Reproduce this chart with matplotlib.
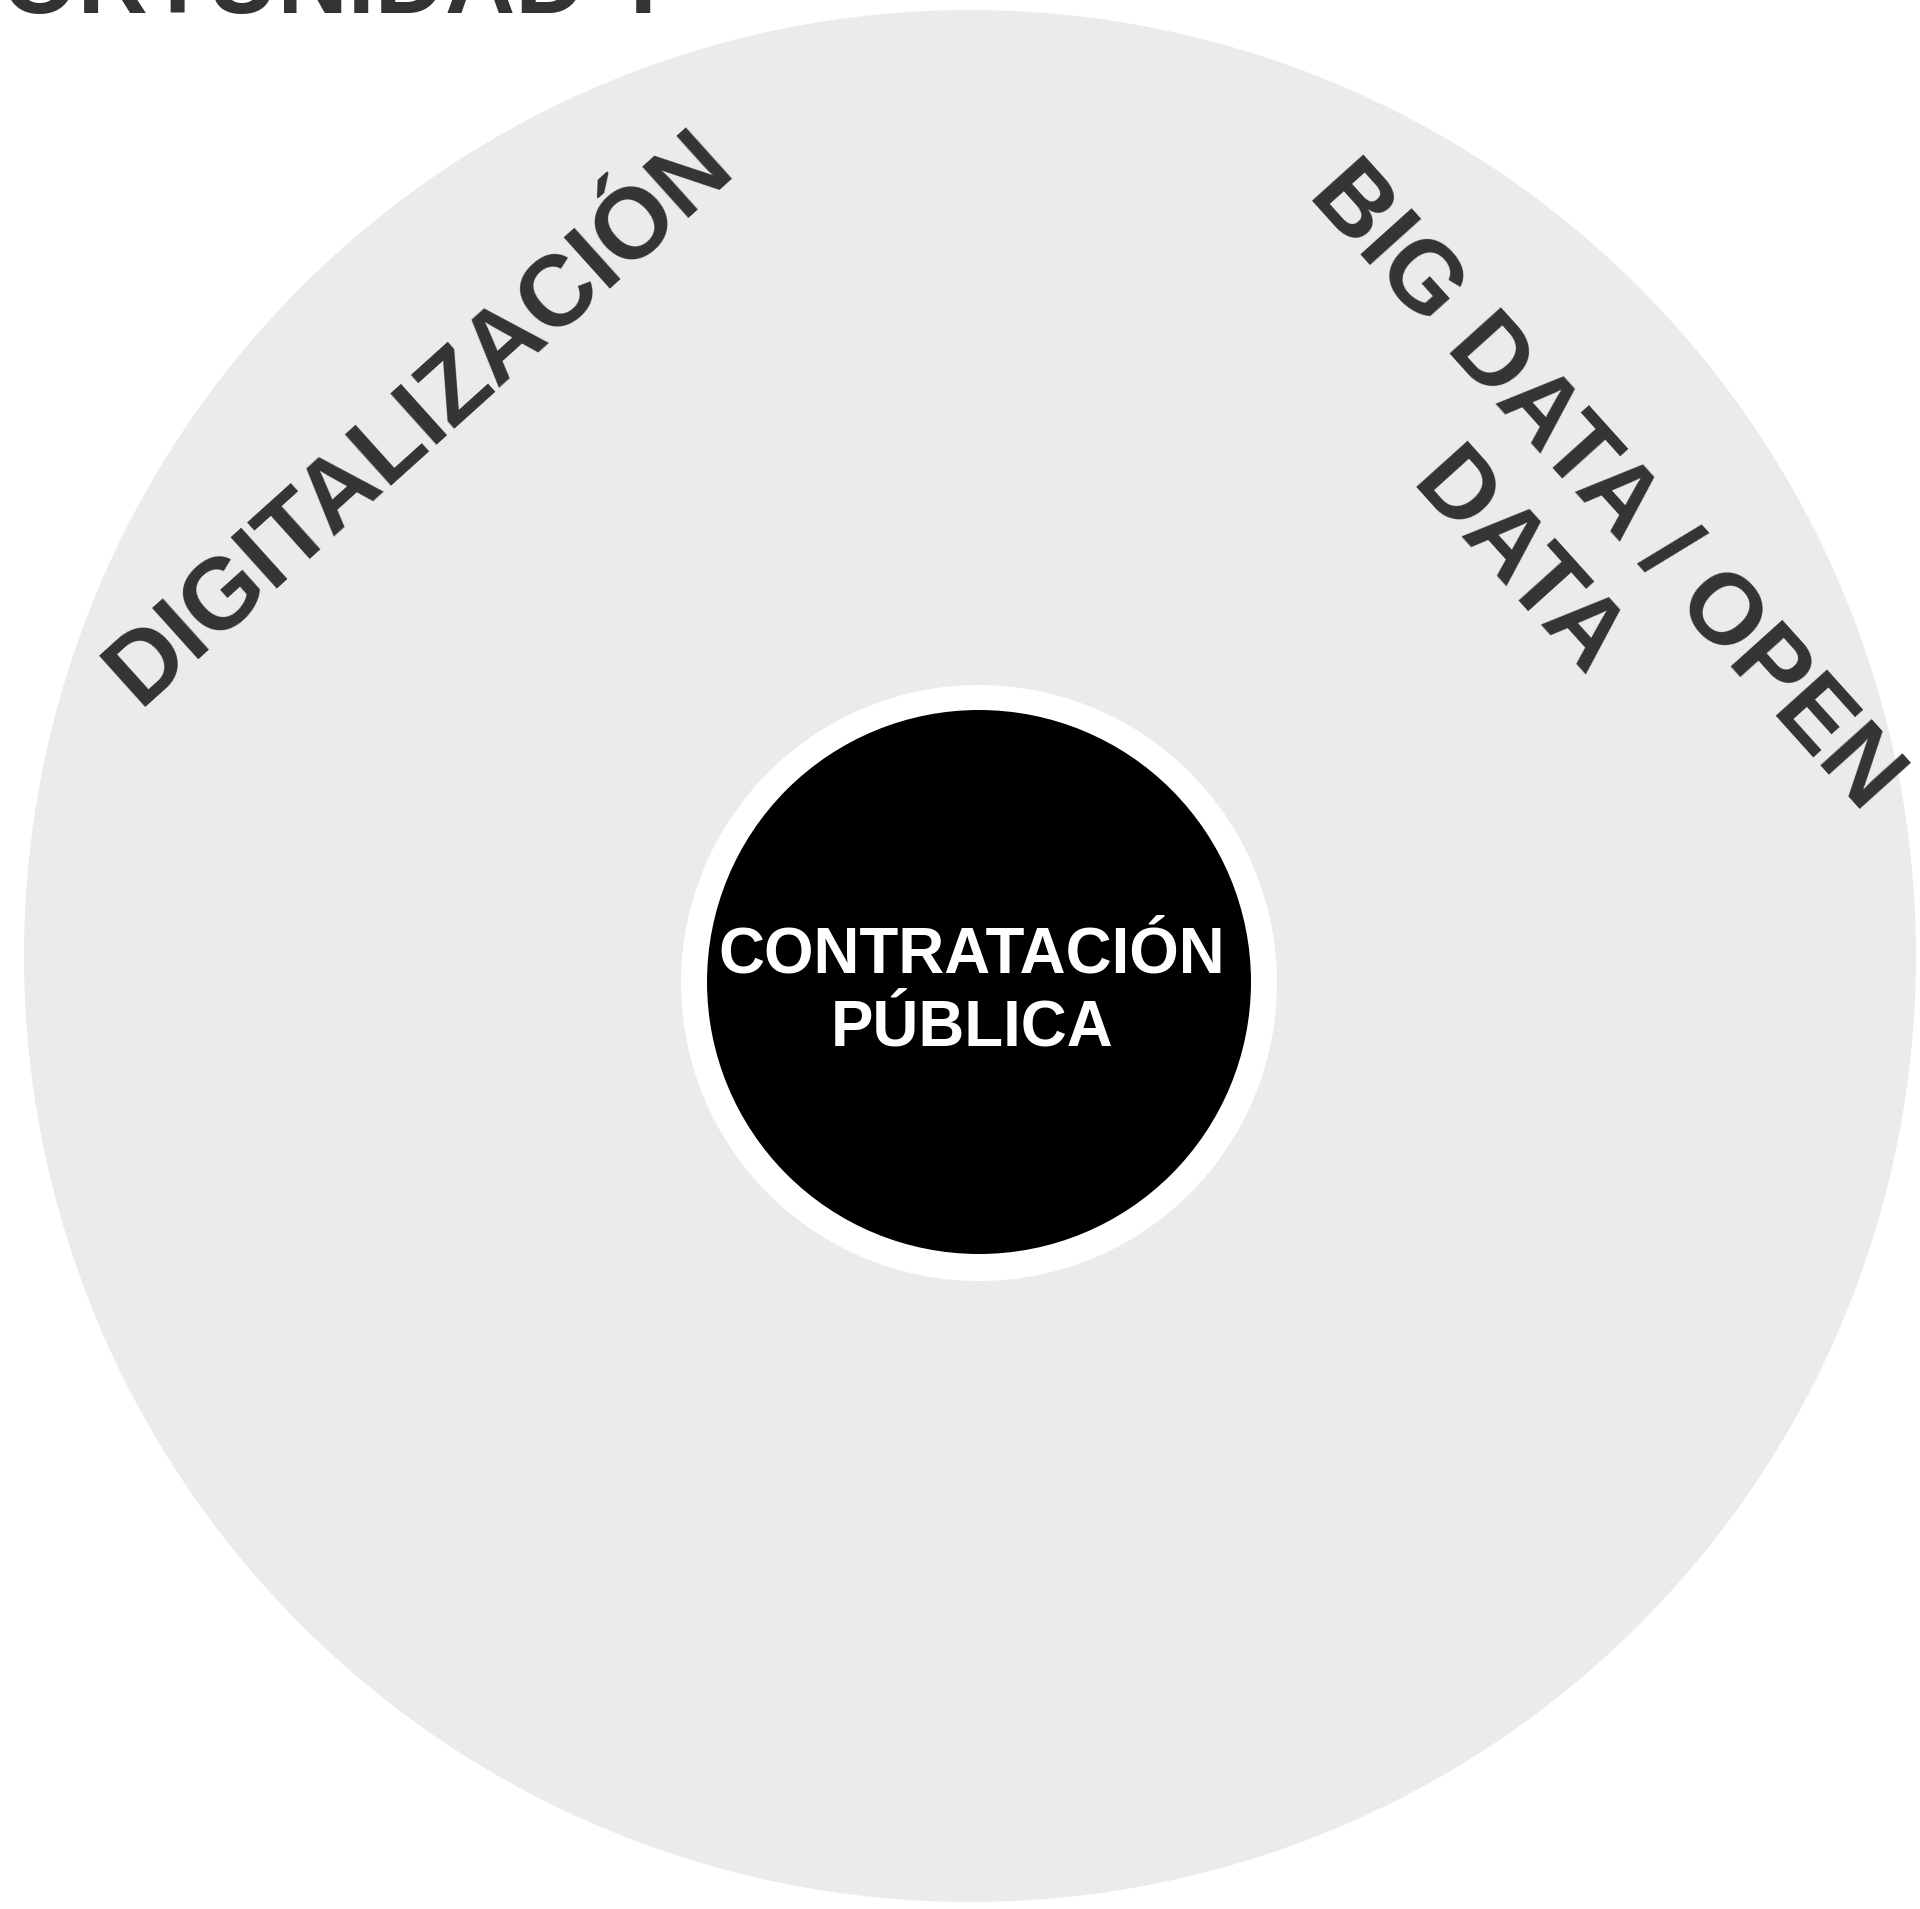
import matplotlib.pyplot as plt
from matplotlib.patches import Circle

# Labels
title_text = "ORTUNIDAD Y"
center_label = "CONTRATACIÓN\nPÚBLICA"
ring_labels = ["DIGITALIZACIÓN", "BIG DATA / OPEN", "DATA"]
ring_label_angles = [42, -48, -48]
# baseline centres in pixel space
ring_label_pos = [(437, 438), (1585, 504), (1496, 584)]

# Circles (pixel space): centre x, centre y, radius
outer_circle = (970, 956, 946)
white_ring = (979, 983, 298)
inner_circle = (979, 982, 272)

# Colors
LIGHT_GRAY = "#ebebeb"
DARK = "#333333"
WHITE = "#ffffff"
BLACK = "#000000"

plt.rcParams['font.family'] = ['Liberation Sans', 'DejaVu Sans']

fig = plt.figure(figsize=(19.2, 19.09), dpi=100)
ax = fig.add_axes([0, 0, 1, 1])
ax.set_xlim(0, 1920)
ax.set_ylim(1909, 0)
ax.axis("off")

for (cx, cy, r), col in zip([outer_circle, white_ring, inner_circle],
                            [LIGHT_GRAY, WHITE, BLACK]):
    ax.add_patch(Circle((cx, cy), r, facecolor=col, edgecolor="none"))

# title (cut off at the top)
ax.text(2, 13, title_text, fontsize=70, fontweight="bold", color=DARK,
        ha="left", va="baseline")

for lab, ang, (x, y) in zip(ring_labels, ring_label_angles, ring_label_pos):
    ax.text(x, y, lab, rotation=ang, rotation_mode="anchor", fontsize=72,
            fontweight="bold", color=DARK, ha="center", va="baseline")

ax.text(inner_circle[0] - 7, inner_circle[1] + 10, center_label, fontsize=45.8,
        fontweight="bold", color=WHITE, ha="center", va="center",
        multialignment="center", linespacing=1.28)

fig.savefig("out.png", dpi=100)
